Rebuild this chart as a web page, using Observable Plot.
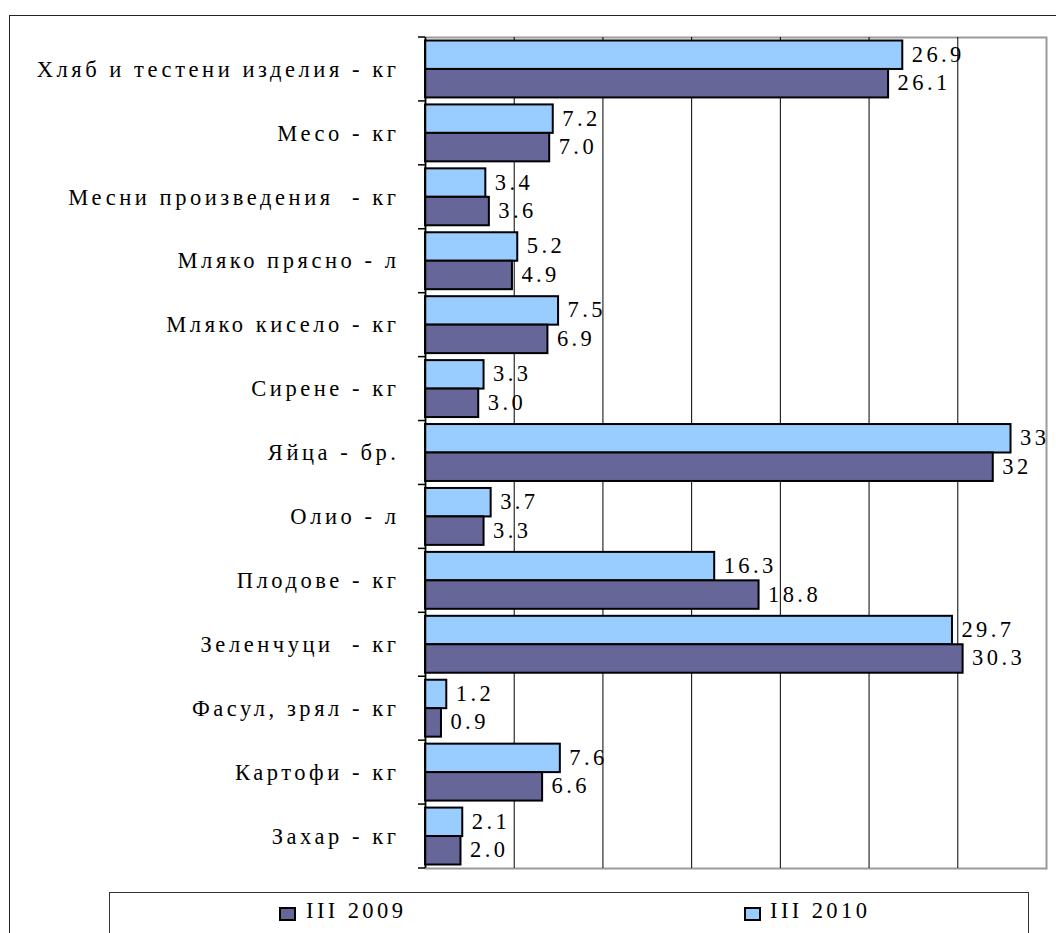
<!DOCTYPE html>
<html>
<head>
<meta charset="utf-8">
<script src="https://cdn.jsdelivr.net/npm/d3@7"></script>
<script src="https://cdn.jsdelivr.net/npm/@observablehq/plot@0.6"></script>
<style>
  html, body { margin: 0; padding: 0; background: #fff; overflow: hidden; width: 1056px; height: 933px; }
  #outer { position: absolute; left: 9px; top: 15px; width: 1200px; height: 1000px;
           border-left: 1.5px solid #222; border-top: 1.5px solid #222; }
  #chart { position: absolute; left: 0; top: 0; }
  #chart svg, #chart svg text { font-family: "Liberation Serif", "Times New Roman", serif !important; letter-spacing: 3.4px; }
  #chart svg text.cat { letter-spacing: 3.55px; }
  #legend { position: absolute; left: 109px; top: 892px; width: 918px; height: 80px;
            border: 1.2px solid #333; font-family: "Liberation Serif", "Times New Roman", serif; font-size: 22.5px;
            letter-spacing: 3.4px; color: #000; }
  .sw { position: absolute; top: 14px; width: 13px; height: 10px; border: 2px solid #000; }
  .lt { position: absolute; top: 5px; line-height: 26px; white-space: nowrap; }
</style>
</head>
<body>
<div id="outer"></div>
<div id="chart"></div>
<div id="legend"></div>
<script>
const categories = [
  "Хляб и тестени изделия - кг",
  "Месо - кг",
  "Месни произведения  - кг",
  "Мляко прясно - л",
  "Мляко кисело - кг",
  "Сирене - кг",
  "Яйца - бр.",
  "Олио - л",
  "Плодове - кг",
  "Зеленчуци  - кг",
  "Фасул, зрял - кг",
  "Картофи - кг",
  "Захар - кг"
];
const values2009 = [26.1, 7.0, 3.6, 4.9, 6.9, 3.0, 32, 3.3, 18.8, 30.3, 0.9, 6.6, 2.0];
const values2010 = [26.9, 7.2, 3.4, 5.2, 7.5, 3.3, 33, 3.7, 16.3, 29.7, 1.2, 7.6, 2.1];
const labels2009 = ["26.1", "7.0", "3.6", "4.9", "6.9", "3.0", "32", "3.3", "18.8", "30.3", "0.9", "6.6", "2.0"];
const labels2010 = ["26.9", "7.2", "3.4", "5.2", "7.5", "3.3", "33", "3.7", "16.3", "29.7", "1.2", "7.6", "2.1"];
const seriesNames = ["III 2009", "III 2010"];
const seriesColors = ["#666699", "#99ccff"];
const xDomain = [0, 35];
const gridTicks = [5, 10, 15, 20, 25, 30];

const rows = categories.map((c, i) => ({
  c, v2009: values2009[i], v2010: values2010[i], l2009: labels2009[i], l2010: labels2010[i]
}));

// band-boundary tick marks on the category axis
function boundaryTicks(index, scales, values, dimensions) {
  const y = scales.y;
  const bw = y.bandwidth ? y.bandwidth() : (y(categories[1]) - y(categories[0]));
  const x0 = dimensions.marginLeft;
  const g = d3.create("svg:g").attr("stroke", "#000").attr("stroke-width", 1.5);
  const ys = categories.map(c => y(c));
  ys.push(ys[ys.length - 1] + bw);
  for (const yy of ys) {
    g.append("line").attr("x1", x0 - 7).attr("x2", x0).attr("y1", yy).attr("y2", yy);
  }
  return g.node();
}

const chart = Plot.plot({
  width: 1056,
  height: 880,
  marginLeft: 425,
  marginTop: 37,
  marginRight: 10,
  marginBottom: 12,
  style: { fontFamily: "Liberation Serif", fontSize: "22px", background: "transparent", color: "#000" },
  x: { domain: xDomain, axis: null },
  y: { domain: categories, padding: 0, round: false, axis: null },
  marks: [
    Plot.frame({ stroke: "#9a9a9a", strokeWidth: 2 }),
    Plot.ruleX(gridTicks, { stroke: "#000", strokeWidth: 1 }),
    Plot.barX(rows, { y: "c", x: "v2010", fill: seriesColors[1], stroke: "#000", strokeWidth: 2, insetTop: 3.5, insetBottom: 31.96 }),
    Plot.barX(rows, { y: "c", x: "v2009", fill: seriesColors[0], stroke: "#000", strokeWidth: 2, insetTop: 31.96, insetBottom: 3.5 }),
    Plot.ruleX([0], { stroke: "#000", strokeWidth: 1.5 }),
    boundaryTicks,
    Plot.text(rows, { y: "c", x: "v2010", text: "l2010", textAnchor: "start", dx: 9, dy: -15, fontSize: 22.5, fill: "#000" }),
    Plot.text(rows, { y: "c", x: "v2009", text: "l2009", textAnchor: "start", dx: 9, dy: 13.5, fontSize: 22.5, fill: "#000" }),
    Plot.text(categories, { y: d => d, x: 0, text: d => d, textAnchor: "end", dx: -26, fontSize: 22.5, fill: "#000", className: "catlabels" })
  ]
});
chart.querySelectorAll(".catlabels text").forEach(t => t.classList.add("cat"));
document.getElementById("chart").appendChild(chart);

// legend
const legend = document.getElementById("legend");
const legendPos = [{ sw: 169, tx: 196 }, { sw: 634, tx: 660 }];
seriesNames.forEach((name, i) => {
  const sw = document.createElement("div");
  sw.className = "sw";
  sw.style.left = legendPos[i].sw + "px";
  sw.style.background = seriesColors[i];
  legend.appendChild(sw);
  const t = document.createElement("div");
  t.className = "lt";
  t.style.left = legendPos[i].tx + "px";
  t.textContent = name;
  legend.appendChild(t);
});
</script>
</body>
</html>
